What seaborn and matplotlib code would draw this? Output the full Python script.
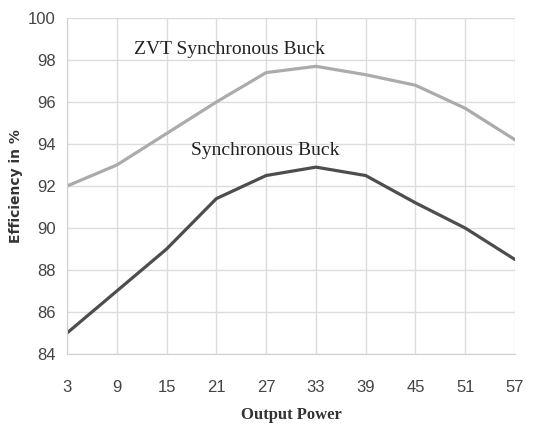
import pandas as pd
import matplotlib
matplotlib.use('Agg')
import matplotlib.pyplot as plt
import seaborn as sns

output_power = [3, 9, 15, 21, 27, 33, 39, 45, 51, 57]
zvt_buck = [92.0, 93.0, 94.5, 96.0, 97.4, 97.7, 97.3, 96.8, 95.7, 94.2]
sync_buck = [85.0, 87.0, 89.0, 91.4, 92.5, 92.9, 92.5, 91.2, 90.0, 88.5]
y_ticks = [84, 86, 88, 90, 92, 94, 96, 98, 100]

df = pd.DataFrame({'power': output_power, 'zvt': zvt_buck, 'sync': sync_buck})

sns.set_style('white')
plt.rcParams['font.family'] = ['Liberation Sans', 'DejaVu Sans']

fig = plt.figure(figsize=(5.47, 4.24), dpi=100)
ax = fig.add_axes([0.1225, 0.165, 0.819, 0.7925])

sns.lineplot(data=df, x='power', y='zvt', color='#ababab', linewidth=2.3, ax=ax)
sns.lineplot(data=df, x='power', y='sync', color='#4d4d4d', linewidth=2.3, ax=ax)

ax.set_xlim(3, 57)
ax.set_ylim(84, 100)
ax.set_xticks(output_power)
ax.set_yticks(y_ticks)
ax.grid(True, color='#dcdcdc', linewidth=1)
for s in ['top', 'right']:
    ax.spines[s].set_visible(False)
for s in ['left', 'bottom']:
    ax.spines[s].set_color('#d0d0d0')
ax.tick_params(axis='x', length=4, color='#d0d0d0', pad=15, labelsize=12, labelcolor='#444444')
ax.tick_params(axis='y', length=0, pad=8, labelsize=12, labelcolor='#444444')

ax.text(22.6, 98.5, 'ZVT Synchronous Buck', family='Liberation Serif', fontsize=14,
        ha='center', va='center', color='#222222')
ax.text(26.9, 93.67, 'Synchronous Buck', family='Liberation Serif', fontsize=14,
        ha='center', va='center', color='#222222')

ax.set_xlabel('Output Power', family='Liberation Serif', fontweight='bold', fontsize=12,
              color='#333333', va='center')
ax.xaxis.set_label_coords(0.5, -0.18)
ax.set_ylabel('Efficiency in %', family='DejaVu Sans', fontweight='bold', fontsize=10,
              color='#333333', va='center')
ax.yaxis.set_label_coords(-0.114, 0.5)

fig.savefig('out.png', dpi=100)
